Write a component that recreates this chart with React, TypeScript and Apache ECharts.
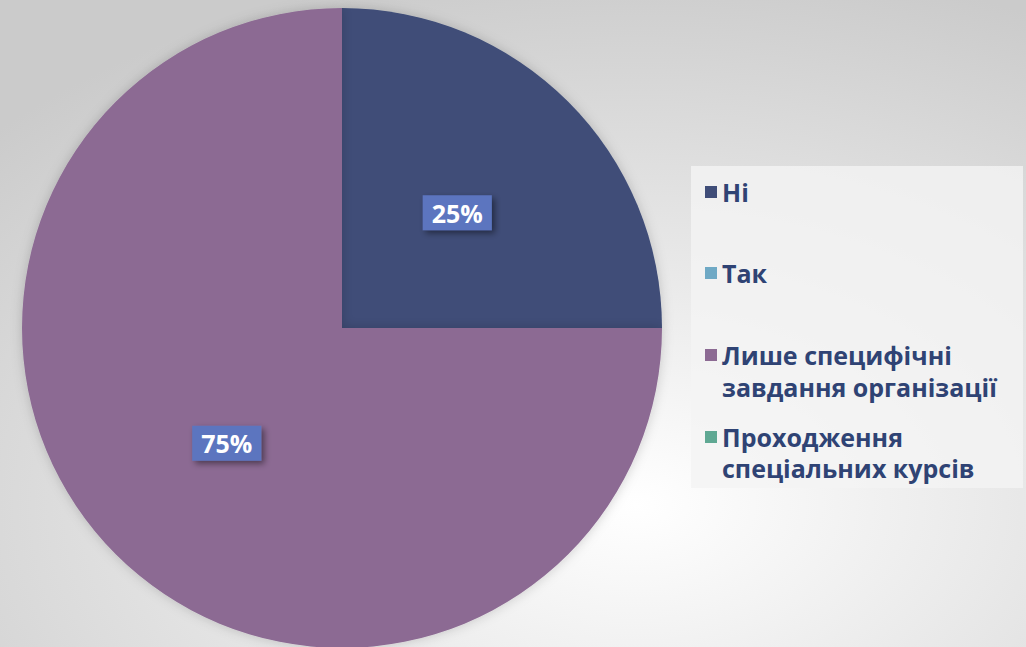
import React, { useEffect, useRef } from "react";
import * as echarts from "echarts";

const categories = ["Ні", "Так", "Лише специфічні завдання організації", "Проходження спеціальних курсів"];
const values = [25, 0, 75, 0];
const colors = ["#3f4d78", "#6fa9c5", "#8c6a93", "#5fa893"];
const legendFirstLines = ["Ні", "Так", "Лише специфічні", "Проходження"];
const legendSecondLines = ["", "", "завдання організації", "спеціальних курсів"];
const legendCenters = [192, 273, 355, 437];
const secondLineCenters = [0, 0, 387, 468];

const FONT = "'Open Sans', 'DejaVu Sans', sans-serif";
const TEXT_COLOR = "#2f4374";

export default function App() {
  const ref = useRef<HTMLDivElement>(null);
  useEffect(() => {
    document.body.style.margin = "0";
    const chart = echarts.init(ref.current!, undefined, { renderer: "svg" });
    const data = categories.map((name, i) => ({
      name,
      value: values[i],
      itemStyle: { color: colors[i] },
      label: { show: values[i] > 0 },
    }));
    const legends = categories.map((name, i) => ({
      data: [name],
      left: 705,
      top: legendCenters[i] - 15,
      padding: 0,
      icon: "rect",
      itemWidth: 12,
      itemHeight: 12,
      selectedMode: false,
      formatter: () => legendFirstLines[i],
      textStyle: {
        color: TEXT_COLOR,
        fontFamily: FONT,
        fontWeight: "bold",
        fontSize: 25,
        lineHeight: 30,
      },
    }));
    const graphics: any[] = [
      {
        type: "rect",
        z: -1,
        shape: { x: 691, y: 166, width: 332, height: 322 },
        style: { fill: "rgba(244,244,244,0.8)" },
        silent: true,
      },
    ];
    legendSecondLines.forEach((t, i) => {
      if (!t) return;
      graphics.push({
        type: "text",
        x: 722,
        y: secondLineCenters[i],
        style: {
          text: t,
          fill: TEXT_COLOR,
          font: `bold 25px ${FONT}`,
          verticalAlign: "middle",
        },
      });
    });
    chart.setOption({
      animation: false,
      backgroundColor: {
        type: "radial",
        x: 0.62,
        y: 0.78,
        r: 0.85,
        colorStops: [
          { offset: 0, color: "#ffffff" },
          { offset: 1, color: "#cbcbcb" },
        ],
      },
      legend: legends,
      graphic: graphics,
      series: [
        {
          type: "pie",
          center: [342, 328],
          radius: [0, 320],
          startAngle: 90,
          clockwise: true,
          avoidLabelOverlap: false,
          itemStyle: {
            shadowBlur: 12,
            shadowColor: "rgba(0,0,0,0.18)",
          },
          label: {
            position: "inside",
            formatter: "{d}%",
            color: "#ffffff",
            fontFamily: FONT,
            fontWeight: "bold",
            fontSize: 25,
            backgroundColor: "#5b75bf",
            padding: [6, 9, 4, 9],
            shadowColor: "rgba(0,0,0,0.45)",
            shadowBlur: 6,
            shadowOffsetX: 3,
            shadowOffsetY: 3,
          },
          labelLine: { show: false },
          emphasis: { disabled: true },
          data,
        },
      ],
    });
    return () => chart.dispose();
  }, []);
  return <div ref={ref} style={{ width: 1026, height: 647 }} />;
}
